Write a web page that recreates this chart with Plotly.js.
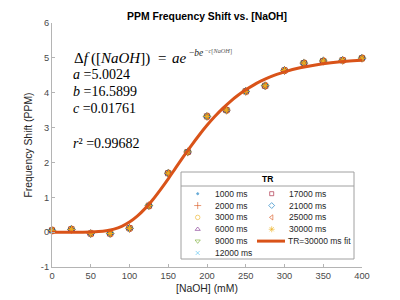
<!DOCTYPE html>
<html><head><meta charset="utf-8">
<script src="https://cdn.plot.ly/plotly-3.0.1.min.js"></script>
<style>html,body{margin:0;padding:0;background:#fff}#chart{width:400px;height:300px}</style>
</head><body><div id="chart"></div>
<script>
// ---- data ----
const xNaOH = [0,25,50,75,100,125,150,175,200,225,250,275,300,325,350,375,400];
const shiftPPM = [0.05,0.08,-0.04,-0.04,0.11,0.76,1.69,2.30,3.32,3.50,4.04,4.20,4.64,4.85,4.91,4.93,4.99];
const trLabels = ['1000 ms','2000 ms','3000 ms','6000 ms','9000 ms','12000 ms','17000 ms','21000 ms','25000 ms','30000 ms'];
const fitX = [0,10,20,30,40,50,60,70,80,90,100,110,120,130,140,150,160,170,180,190,200,210,220,230,240,250,260,270,280,290,300,320,340,360,380,400];
const fitY = [0.00,0.00,0.00,0.00,0.00,0.005,0.016,0.04,0.087,0.167,0.289,0.458,0.674,0.931,1.222,1.53,1.856,2.178,2.491,2.788,3.065,3.317,3.544,3.747,3.926,4.083,4.219,4.337,4.438,4.524,4.598,4.715,4.798,4.858,4.900,4.930];
const fitLabel = 'TR=30000 ms fit';
const xTicks = [0,50,100,150,200,250,300,350,400];
const yTicks = [-1,0,1,2,3,4,5,6];
const fitParams = ['5.0024','16.5899','0.01761'];
const rSquared = '0.99682';

// ---- styles ----
const symbols = ['circle','cross-thin-open','circle-open','triangle-up-open','triangle-down-open','x-thin-open','square-open','diamond-open','triangle-left-open','asterisk-open'];
const colors = ['#0072BD','#D95319','#EDB120','#7E2F8E','#77AC30','#4DBEEE','#A2142F','#0072BD','#D95319','#EDB120'];
const sizes = [2.5,6,5.5,5.5,5.5,5,5,5.5,5.5,6];

const L=52, T=23, W=310, H=244;
const px = x => (x-L)/W, py = y => (T+H-y)/H;

const traces = [];
trLabels.forEach((lab,i)=>{
  traces.push({type:'scatter',mode:'markers',x:xNaOH,y:shiftPPM,name:lab,
    marker:{symbol:symbols[i],color:colors[i],size:sizes[i],line:{color:colors[i],width:1}},
    cliponaxis:false,showlegend:false,hoverinfo:'skip'});
});
traces.push({type:'scatter',mode:'lines',x:fitX,y:fitY,name:fitLabel,
  line:{color:'#D95319',width:3,shape:'spline'},showlegend:false,hoverinfo:'skip'});

// ---- custom legend (MATLAB style, 2 columns) ----
const rowY0=193.7, rowStep=11.85, col1M=197.7, col1T=213, col2M=271.7, col2T=287;
const annotations=[], shapes=[];
const legFont={family:'Liberation Sans, Arial, sans-serif',size:8.5,color:'#262626'};
trLabels.forEach((lab,i)=>{
  const c = i<6?0:1, r = i<6?i:i-6;
  const mx = c?col2M:col1M, tx = c?col2T:col1T, y = rowY0+r*rowStep;
  traces.push({type:'scatter',mode:'markers',x:[px(mx)],y:[py(y)],xaxis:'x2',yaxis:'y2',
    marker:{symbol:symbols[i],color:colors[i],size:Math.max(2,sizes[i]-1),opacity:0.6,line:{color:colors[i],width:1}},
    showlegend:false,hoverinfo:'skip',cliponaxis:false});
  annotations.push({xref:'paper',yref:'paper',x:px(tx),y:py(y),xanchor:'left',yanchor:'middle',
    text:lab,showarrow:false,font:legFont});
});
{
  const y=rowY0+4*rowStep;
  shapes.push({type:'line',xref:'paper',yref:'paper',x0:px(257),x1:px(285),y0:py(y),y1:py(y),
    line:{color:'#D95319',width:3}});
  annotations.push({xref:'paper',yref:'paper',x:px(286),y:py(y),xanchor:'left',yanchor:'middle',
    text:fitLabel,showarrow:false,font:legFont});
}
shapes.push({type:'rect',xref:'paper',yref:'paper',x0:px(181),x1:px(354),y0:py(259),y1:py(172),
  fillcolor:'#fff',line:{color:'#a0a0a0',width:1},layer:'below'});
shapes.push({type:'line',xref:'paper',yref:'paper',x0:px(181),x1:px(354),y0:py(186),y1:py(186),
  line:{color:'#a0a0a0',width:1},layer:'below'});
annotations.push({xref:'paper',yref:'paper',x:px(267.5),y:py(179),xanchor:'center',yanchor:'middle',
  text:'<b>TR</b>',showarrow:false,font:{family:'Liberation Sans, Arial, sans-serif',size:8.5,color:'#000'}});

// ---- equation text ----
const serif='Liberation Serif, Times New Roman, serif';
const mFont={family:serif,size:14,color:'#000'};
const addTxt=(t,x,y,font,anchor)=>annotations.push({xref:'paper',yref:'paper',x:px(x),y:py(y),
  xanchor:anchor||'left',yanchor:'middle',text:t,showarrow:false,font:font});
const f15={family:serif,size:15,color:'#000'};
addTxt('Δ<i>f</i>',71.5,58,f15);
addTxt('([<i>NaOH</i>])',89,58,f15);
addTxt('=',161.7,58,f15,'center');
addTxt('<i>ae</i>',170,58,f15);
addTxt('−<i>be</i>',187,52.5,{family:serif,size:9.5,color:'#222'});
addTxt('−<i>c</i>[<i>NaOH</i>]',202.5,50.8,{family:serif,size:6.3,color:'#555'});
addTxt('<i>a</i> =' + fitParams[0],71,74.5,mFont);
addTxt('<i>b</i> =' + fitParams[1],71,91.3,mFont);
addTxt('<i>c</i> =' + fitParams[2],71,108.5,mFont);
addTxt('<i>r</i>² =' + rSquared,71,143,mFont);

const axCol='#b4b4b4';
const layout={
  width:400,height:300,margin:{l:L,r:400-L-W,t:T,b:300-T-H},
  paper_bgcolor:'#fff',plot_bgcolor:'#fff',showlegend:false,
  title:{text:'<b>PPM Frequency Shift vs. [NaOH]</b>',x:0.5,xref:'paper',y:1-16/300,yanchor:'middle',
    font:{family:'Liberation Sans, Arial, sans-serif',size:10.4,color:'#000'}},
  xaxis:{range:[0,400],tickvals:xTicks,ticktext:xTicks.map(String),ticks:'inside',ticklen:3,tickcolor:axCol,
    showline:true,linecolor:axCol,linewidth:1,showgrid:false,zeroline:false,
    tickfont:{family:'Liberation Sans, Arial, sans-serif',size:9.3,color:'#4a4a4a'},
    title:{text:'[NaOH] (mM)',standoff:4,font:{family:'Liberation Sans, Arial, sans-serif',size:10.4,color:'#262626'}}},
  yaxis:{range:[-1,6],tickvals:yTicks,ticktext:yTicks.map(String),ticks:'inside',ticklen:3,tickcolor:axCol,
    showline:true,linecolor:axCol,linewidth:1,showgrid:false,zeroline:false,
    tickfont:{family:'Liberation Sans, Arial, sans-serif',size:9.3,color:'#4a4a4a'},
    title:{text:'Frequency Shift (PPM)',standoff:6,font:{family:'Liberation Sans, Arial, sans-serif',size:10.4,color:'#262626'}}},
  xaxis2:{overlaying:'x',range:[0,1],visible:false,fixedrange:true},
  yaxis2:{overlaying:'y',range:[0,1],visible:false,fixedrange:true},
  annotations:annotations,shapes:shapes
};
Plotly.newPlot('chart',traces,layout,{staticPlot:true,displayModeBar:false});
</script></body></html>
